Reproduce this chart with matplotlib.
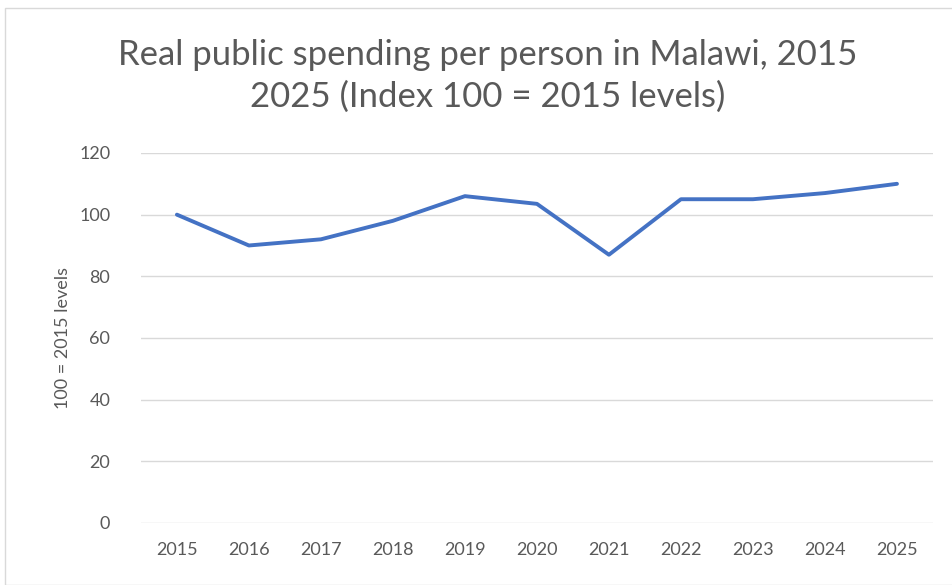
import matplotlib.pyplot as plt
from matplotlib.patches import Rectangle

plt.rcParams['font.family'] = ['Lato', 'Open Sans', 'DejaVu Sans']

years = ['2015', '2016', '2017', '2018', '2019', '2020', '2021', '2022', '2023', '2024', '2025']
index_values = [100, 90, 92, 98, 106, 103.5, 87, 105, 105, 107, 110]
y_ticks = [0, 20, 40, 60, 80, 100, 120]

grey = '#595959'

fig = plt.figure(figsize=(9.52, 5.85), dpi=100)
# chart border
fig.patches.append(Rectangle((5 / 952, 0.0), 1.0, 1 - 8 / 585, transform=fig.transFigure,
                             fill=False, edgecolor='#d9d9d9', linewidth=1))

ax = fig.add_axes([0.148, 0.106, 0.832, 0.6325])
x = range(len(years))
ax.plot(x, index_values, color='#4472C4', linewidth=2.8, solid_joinstyle='round', solid_capstyle='round')

ax.set_xlim(-0.5, len(years) - 0.5)
ax.set_ylim(0, 120)
ax.set_yticks(y_ticks)
ax.set_xticks(list(x))
ax.set_xticklabels(years)
ax.grid(axis='y', color='#d9d9d9', linewidth=1)
ax.set_axisbelow(True)
for s in ax.spines.values():
    s.set_visible(False)
ax.tick_params(axis='both', length=0, colors=grey, labelsize=13)
ax.tick_params(axis='y', pad=22)
ax.tick_params(axis='x', pad=14)
ax.set_ylabel('100 = 2015 levels', color=grey, fontsize=13, labelpad=6)

fig.text(0.512, 0.870, 'Real public spending per person in Malawi, 2015\n2025 (Index 100 = 2015 levels)',
         ha='center', va='center', fontsize=25, color=grey, linespacing=1.38)

fig.savefig('out.png', dpi=100)
